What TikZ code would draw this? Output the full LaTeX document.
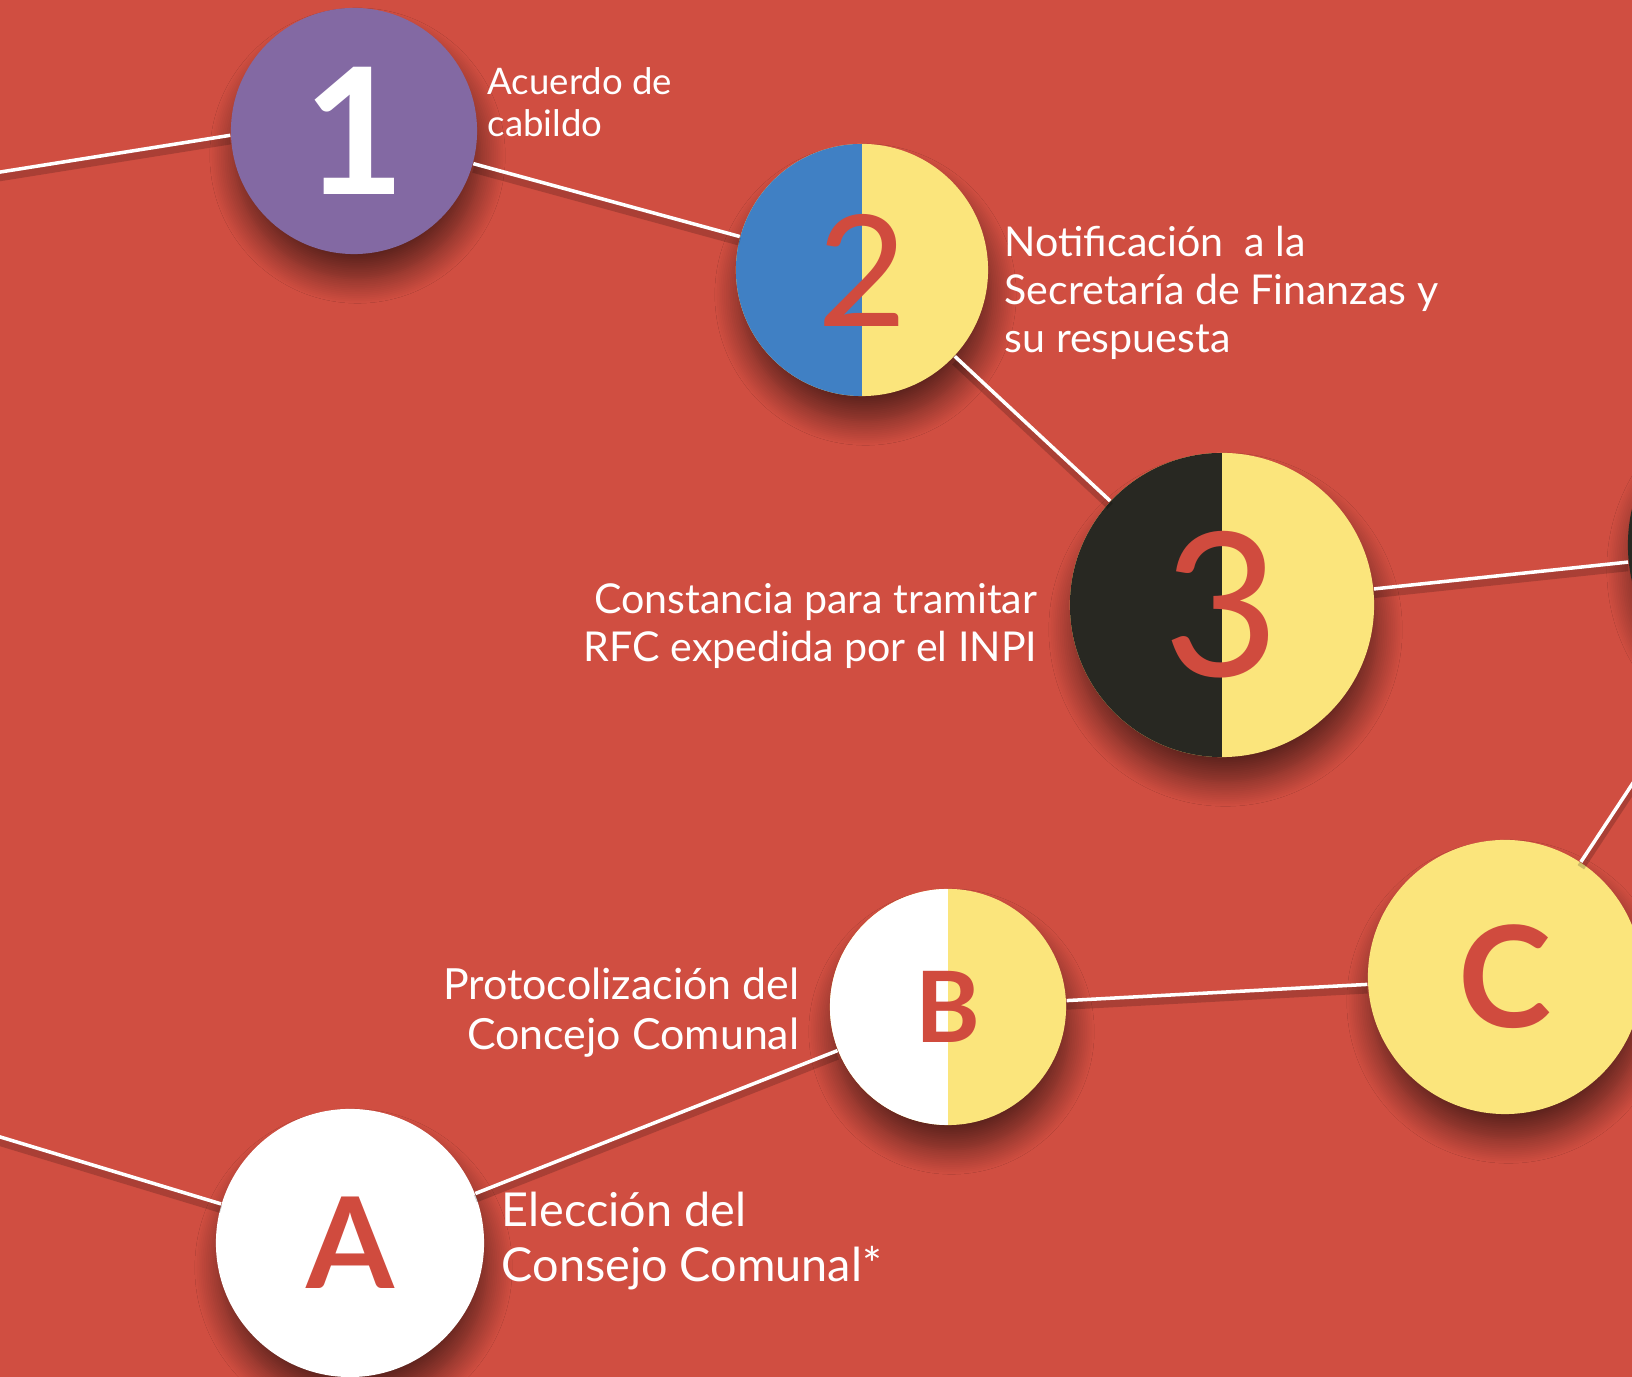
\documentclass[tikz,border=0pt]{standalone}
\usepackage{fontspec}
\setmainfont{Lato}
\usetikzlibrary{shadows.blur}
\definecolor{fondo}{HTML}{D04E41}
\definecolor{morado}{HTML}{8369A3}
\definecolor{azul}{HTML}{4080C4}
\definecolor{amarillo}{HTML}{FBE57C}
\definecolor{negro}{HTML}{282822}
\definecolor{rojo}{HTML}{D04B3E}
\tikzset{
  paso/.style={circle, inner sep=0pt, text=rojo,
    blur shadow={shadow xshift=1pt, shadow yshift=-7pt, shadow blur radius=7pt,
      shadow blur steps=14, shadow opacity=55}},
  izq/.style={path picture={\fill[#1] (path picture bounding box.south west)
    rectangle (path picture bounding box.north);}},
  linea/.style={draw=white, line width=1pt,
    preaction={draw=black, draw opacity=0.18, line width=2.2pt, transform canvas={yshift=-1.5pt}}},
  rotulo/.style={text=white, inner sep=0pt, font=\fontsize{11.7}{13.7}\selectfont}
}
\begin{document}
\begin{tikzpicture}[x=0.01cm, y=-0.01cm]
\useasboundingbox (0,0) rectangle (1632,1377);
\clip (0,0) rectangle (1632,1377);
\fill[fondo] (0,0) rectangle (1632,1377);
% pasos numerados
\node[paso, fill=morado, text=white, minimum size=2.46cm, font=\fontsize{50}{50}\selectfont\bfseries] (1) at (354,131) {1};
\node[paso, fill=amarillo, izq=azul, minimum size=2.52cm, font=\fontsize{44}{44}\selectfont] (2) at (862,270) {2};
\node[paso, fill=amarillo, izq=negro, minimum size=3.04cm, font=\fontsize{57}{57}\selectfont] (3) at (1222,605) {3};
\node[paso, fill=negro, minimum size=3.24cm] (4) at (1790,545) {};
% pasos con letra
\node[paso, fill=white, minimum size=2.68cm, font=\fontsize{36}{36}\selectfont\bfseries] (a) at (350,1243) {A};
\node[paso, fill=amarillo, izq=white, minimum size=2.36cm, font=\fontsize{28}{28}\selectfont\bfseries] (b) at (948,1007) {B};
\node[paso, fill=amarillo, minimum size=2.74cm, font=\fontsize{40}{40}\selectfont\bfseries] (c) at (1505,977) {C};
\coordinate (0) at (-300,220);
\coordinate (x) at (-300,1046);
\path[linea] (0) -- (1.182);
\path[linea] (1) -- (2);
\path[linea] (2) -- (3);
\path[linea] (3) -- (4);
\path[linea] (x) -- (a);
\path[linea] (a) -- (b);
\path[linea] (b) -- (c);
\path[linea] (c) -- (4);
% textos
\node[rotulo, anchor=west, align=left, font=\fontsize{10.4}{11.8}\selectfont] (t1) at (487,102) {Acuerdo de\\cabildo};
\node[rotulo, anchor=west, align=left] (t2) at (1004,293) {Notificación\ \ a la\\Secretaría de Finanzas y\\su respuesta};
\node[rotulo, anchor=east, align=right] (t3) at (1038,626) {Constancia para tramitar\\RFC expedida por el INPI};
\node[rotulo, anchor=east, align=right, font=\fontsize{12.2}{14.2}\selectfont] (tb) at (800,1013) {Protocolización del\\Concejo Comunal};
\node[rotulo, anchor=west, align=left, font=\fontsize{13.3}{15.4}\selectfont] (ta) at (501,1241) {Elección del\\Consejo Comunal*};
\end{tikzpicture}
\end{document}
